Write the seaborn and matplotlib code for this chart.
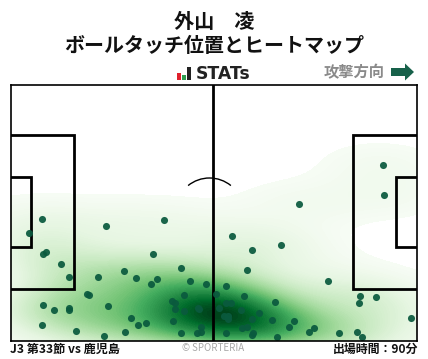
import matplotlib
matplotlib.use('Agg')
import matplotlib.pyplot as plt
from matplotlib.patches import Rectangle, Arc, FancyArrow
import seaborn as sns

sns.set_style("white")
plt.rcParams['font.family'] = ['Noto Sans CJK JP', 'DejaVu Sans']

# touch positions (pitch drawn in picture units)
touch_x = [42, 106, 164, 29, 43, 46, 153, 61, 69, 98, 124, 136, 181, 157, 151, 190, 206, 184, 87, 89,
           43, 54, 69, 69, 108, 172, 175, 175, 184, 198, 199, 131, 138, 146, 173, 42, 76, 104, 125, 181,
           201, 201, 197, 299, 232, 252, 281, 247, 328, 226, 216, 244, 275, 360, 376, 359, 226, 231, 219,
           241, 259, 224, 228, 228, 252, 272, 294, 411, 289, 314, 309, 242, 247, 226, 253, 252, 277, 339,
           357, 362, 383, 384]
touch_y = [219, 226, 220, 233, 254, 252, 254, 264, 277, 277, 271, 278, 268, 279, 284, 281, 284, 295, 294, 295,
           305, 310, 308, 310, 306, 301, 303, 309, 311, 308, 309, 318, 325, 323, 321, 325, 331, 336, 332, 333,
           327, 332, 333, 204, 236, 250, 245, 270, 281, 286, 294, 296, 302, 296, 297, 303, 303, 303, 308,
           310, 313, 316, 316, 319, 319, 320, 321, 318, 327, 328, 332, 328, 327, 333, 333, 335, 337, 333,
           332, 337, 165, 195]

title_lines = ['外山\u3000凌', 'ボールタッチ位置とヒートマップ']
match_label = 'J3 第33節 vs 鹿児島'
time_label = '出場時間：90分'

fig = plt.figure(figsize=(4.28, 3.59), dpi=100)
ax = fig.add_axes([10.5 / 428, 1 - 340.5 / 359, 406 / 428, 256 / 359])

sns.kdeplot(x=touch_x, y=touch_y, fill=True, cmap='Greens', levels=100, thresh=0.02,
            bw_adjust=0.95, gridsize=200, cut=6, ax=ax, zorder=2)

line = dict(color='black', lw=2, fill=False, zorder=3, clip_on=True)
ax.add_patch(Rectangle((0, 135), 73.5, 154, **line))
ax.add_patch(Rectangle((0, 177), 30.5, 70, **line))
ax.add_patch(Rectangle((352.5, 135), 70, 154, **line))
ax.add_patch(Rectangle((395.5, 177), 30, 70, **line))
ax.plot([213, 213], [84, 341], color='black', lw=2, zorder=3)
ax.add_patch(Arc((209.5, 212), 68, 68, theta1=231, theta2=309, color='black', lw=1, zorder=1))

sns.scatterplot(x=touch_x, y=touch_y, color='#0a5a3e', s=26, linewidth=0, alpha=0.93, ax=ax, zorder=4)

ax.set_xlim(10.5, 416.5)
ax.set_ylim(340.5, 84.5)
ax.set_xticks([])
ax.set_yticks([])
ax.set_xlabel('')
ax.set_ylabel('')
for s in ax.spines.values():
    s.set_color('black')
    s.set_linewidth(1.2)
    s.set_zorder(5)


def fx(px):
    return px / 428


def fy(py):
    return 1 - py / 359


fig.text(fx(214), fy(21), title_lines[0], ha='center', va='center', fontsize=14.5, fontweight='bold', color='#111111')
fig.text(fx(214), fy(46), title_lines[1], ha='center', va='center', fontsize=14.4, fontweight='bold', color='#111111')

# logo
for x0, h, c in [(177, 7, '#e0202c'), (182, 5, '#2f9e4f'), (187, 13, '#222222')]:
    fig.add_artist(Rectangle((fx(x0), fy(80)), 4 / 428, h / 359, transform=fig.transFigure, color=c, lw=0))
fig.text(fx(196), fy(74), 'STATs', ha='left', va='center', fontsize=12.4, fontweight='bold', color='#222222',
         family=['DejaVu Sans'])

fig.text(fx(385), fy(72), '攻撃方向', ha='right', va='center', fontsize=11, fontweight='bold', color='#8a8a8a')
fig.add_artist(FancyArrow(fx(391), fy(72), 23 / 428, 0, width=8 / 359, head_width=17 / 359, head_length=9 / 428,
                          length_includes_head=True, transform=fig.transFigure, color='#17614a', lw=0))

fig.text(fx(10), fy(349), match_label, ha='left', va='center', fontsize=8.7, fontweight='bold', color='#111111')
fig.text(fx(213), fy(348), '© SPORTERIA', ha='center', va='center', fontsize=7, color='#a8a8a8')
fig.text(fx(418), fy(349), time_label, ha='right', va='center', fontsize=8.6, fontweight='bold', color='#111111')

fig.savefig('out.png', dpi=100)
